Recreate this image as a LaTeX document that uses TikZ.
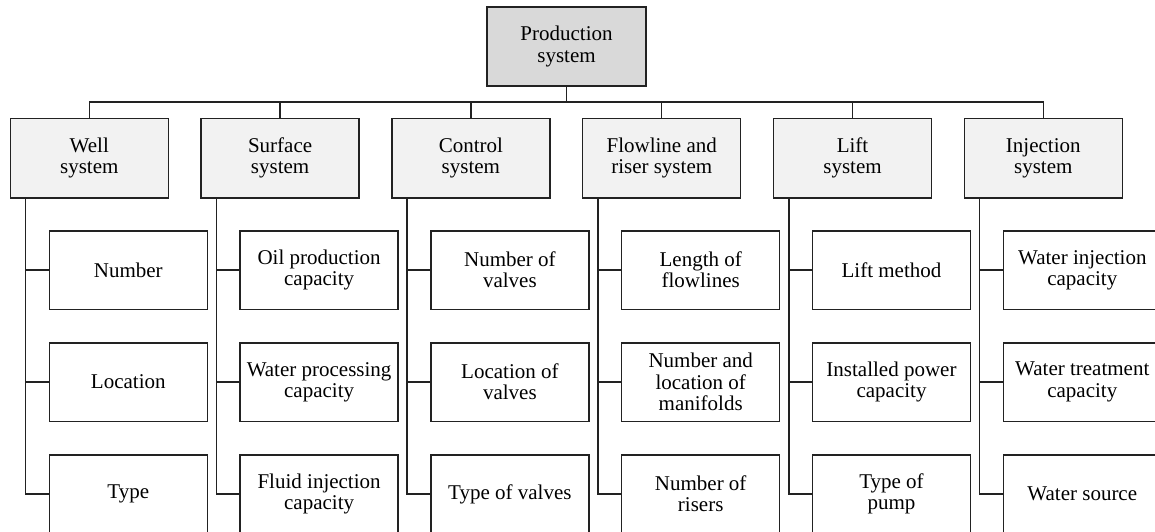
\documentclass[tikz,border=0pt]{standalone}
\usepackage{fontspec}
\setmainfont{Liberation Serif}
\definecolor{topfill}{HTML}{D9D9D9}
\definecolor{midfill}{HTML}{F2F2F2}
\definecolor{linec}{HTML}{222222}
\tikzset{
  box/.style={draw=linec, line width=1.5pt, minimum width=158pt, minimum height=78.5pt, inner sep=0pt, align=center, font=\fontsize{21}{21.3}\selectfont},
  topbox/.style={box, fill=topfill, minimum width=159pt, minimum height=79pt},
  midbox/.style={box, fill=midfill, minimum height=79.5pt},
  leafbox/.style={box, fill=white},
  conn/.style={draw=linec, line width=1.5pt}
}
\begin{document}
\begin{tikzpicture}[x=1pt,y=-1pt]
\useasboundingbox (0,0) rectangle (1155,532);
\clip (0,0) rectangle (1155,532);
\node[topbox] (top) at (566.5,46.5) {Production\\system};
\coordinate (bus) at (566.5,102);
\foreach \name/\txt [count=\i from 0] in {w/Well\\system, s/Surface\\system, c/Control\\system, f/Flowline and\\riser system, l/Lift\\system, j/Injection\\system}{
  \node[midbox] (\name) at (89.3+\i*190.8,158) {\txt};
}
\draw[conn] (top.south) -- (bus);
\foreach \name in {w,s,c,f,l,j}{
  \draw[conn] (\name.north) |- (bus);
}
% leaves
\foreach \name/\a/\b/\c in {w/Number/Location/Type,
  s/Oil production\\capacity/Water processing\\capacity/Fluid injection\\capacity,
  c/Number of\\valves/Location of\\valves/Type of valves,
  f/Length of\\flowlines/Number and\\location of\\manifolds/Number of\\risers,
  l/Lift method/Installed power\\capacity/Type of\\pump,
  j/Water injection\\capacity/Water treatment\\capacity/Water source}{
  \node[leafbox] (\name1) at ([xshift=39pt]\name.center |- 0,270) {\a};
  \node[leafbox] (\name2) at ([xshift=39pt]\name.center |- 0,382) {\b};
  \node[leafbox] (\name3) at ([xshift=39pt]\name.center |- 0,494) {\c};
  \draw[conn] ([xshift=16pt]\name.south west) |- (\name3.west);
  \draw[conn] ([xshift=16pt]\name.south west |- \name1.west) -- (\name1.west);
  \draw[conn] ([xshift=16pt]\name.south west |- \name2.west) -- (\name2.west);
}
\end{tikzpicture}
\end{document}
